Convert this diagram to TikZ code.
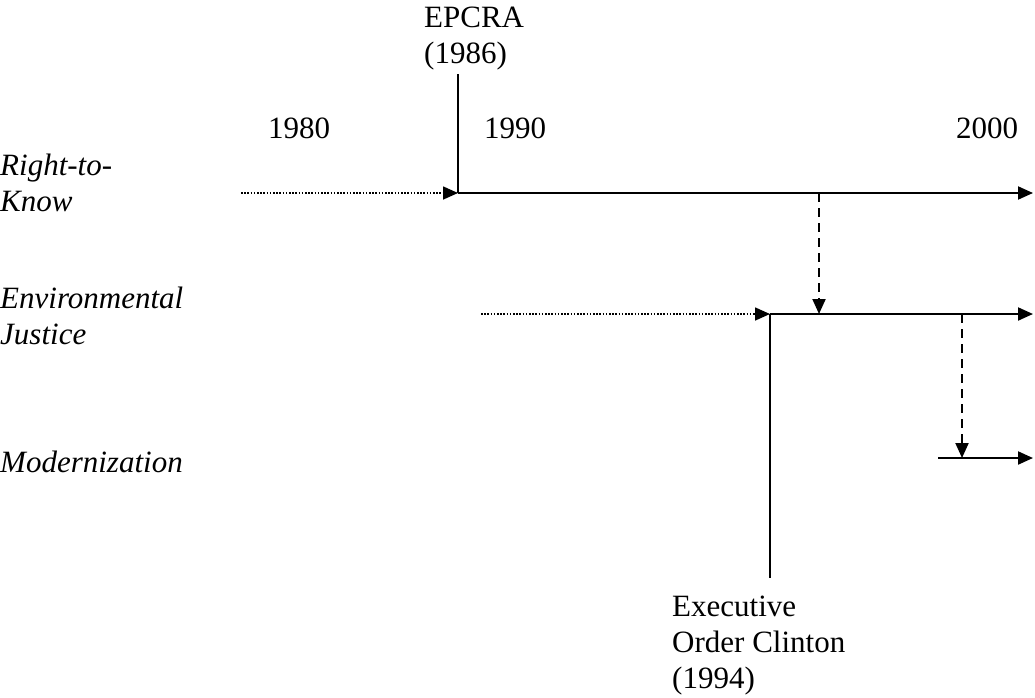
\documentclass[tikz,border=0pt]{standalone}
\usepackage{fontspec}
\setmainfont{Liberation Serif}
\usetikzlibrary{arrows.meta}
\begin{document}
\begin{tikzpicture}[x=1pt,y=-1pt,
  lbl/.style={anchor=base west,inner sep=0pt,font=\fontsize{31}{36}\selectfont,align=left},
  tip/.style={-{Triangle[length=15pt,width=13pt]}},
  solidline/.style={line width=2pt},
  dotline/.style={line width=1.6pt,dash pattern=on 1.6pt off 1.6pt},
  dashline/.style={line width=2pt,dash pattern=on 9pt off 6pt}]
\useasboundingbox (0,0) rectangle (1035,697);
% labels (anchored at the baseline of the last line)
\node[lbl] (epcra) at (424,63) {EPCRA\\(1986)};
\node[lbl] (y1980) at (268,138) {1980};
\node[lbl] (y1990) at (484,138) {1990};
\node[lbl] (y2000) at (956,138) {2000};
\node[lbl] (rtk) at (0,211) {\itshape Right-to-\\\itshape Know};
\node[lbl] (ej) at (0,344) {\itshape Environmental\\\itshape Justice};
\node[lbl] (mod) at (0,472) {\itshape Modernization};
\node[lbl] (eo) at (672,688) {Executive\\Order Clinton\\(1994)};
% coordinates
\coordinate (rtkA) at (241,193);
\coordinate (rtkB) at (458,193);
\coordinate (rtkE) at (1033,193);
\coordinate (epTop) at (458,74);
\coordinate (ejA) at (481,314);
\coordinate (ejB) at (770,314);
\coordinate (ejE) at (1033,314);
\coordinate (eoBot) at (770,578);
\coordinate (d1T) at (819,193);
\coordinate (d1B) at (819,314);
\coordinate (d2T) at (962,314);
\coordinate (d2B) at (962,458);
\coordinate (modA) at (938,458);
\coordinate (modE) at (1033,458);
% lines
\draw[dotline,tip] (rtkA) -- (rtkB);
\draw[solidline] (epTop) -- (rtkB);
\draw[solidline,tip] (rtkB) -- (rtkE);
\draw[dotline,tip] (ejA) -- (ejB);
\draw[solidline] (ejB) -- (eoBot);
\draw[solidline,tip] (ejB) -- (ejE);
\draw[dashline,tip] (d1T) -- (d1B);
\draw[dashline,tip] (d2T) -- (d2B);
\draw[solidline,tip] (modA) -- (modE);
\end{tikzpicture}
\end{document}
